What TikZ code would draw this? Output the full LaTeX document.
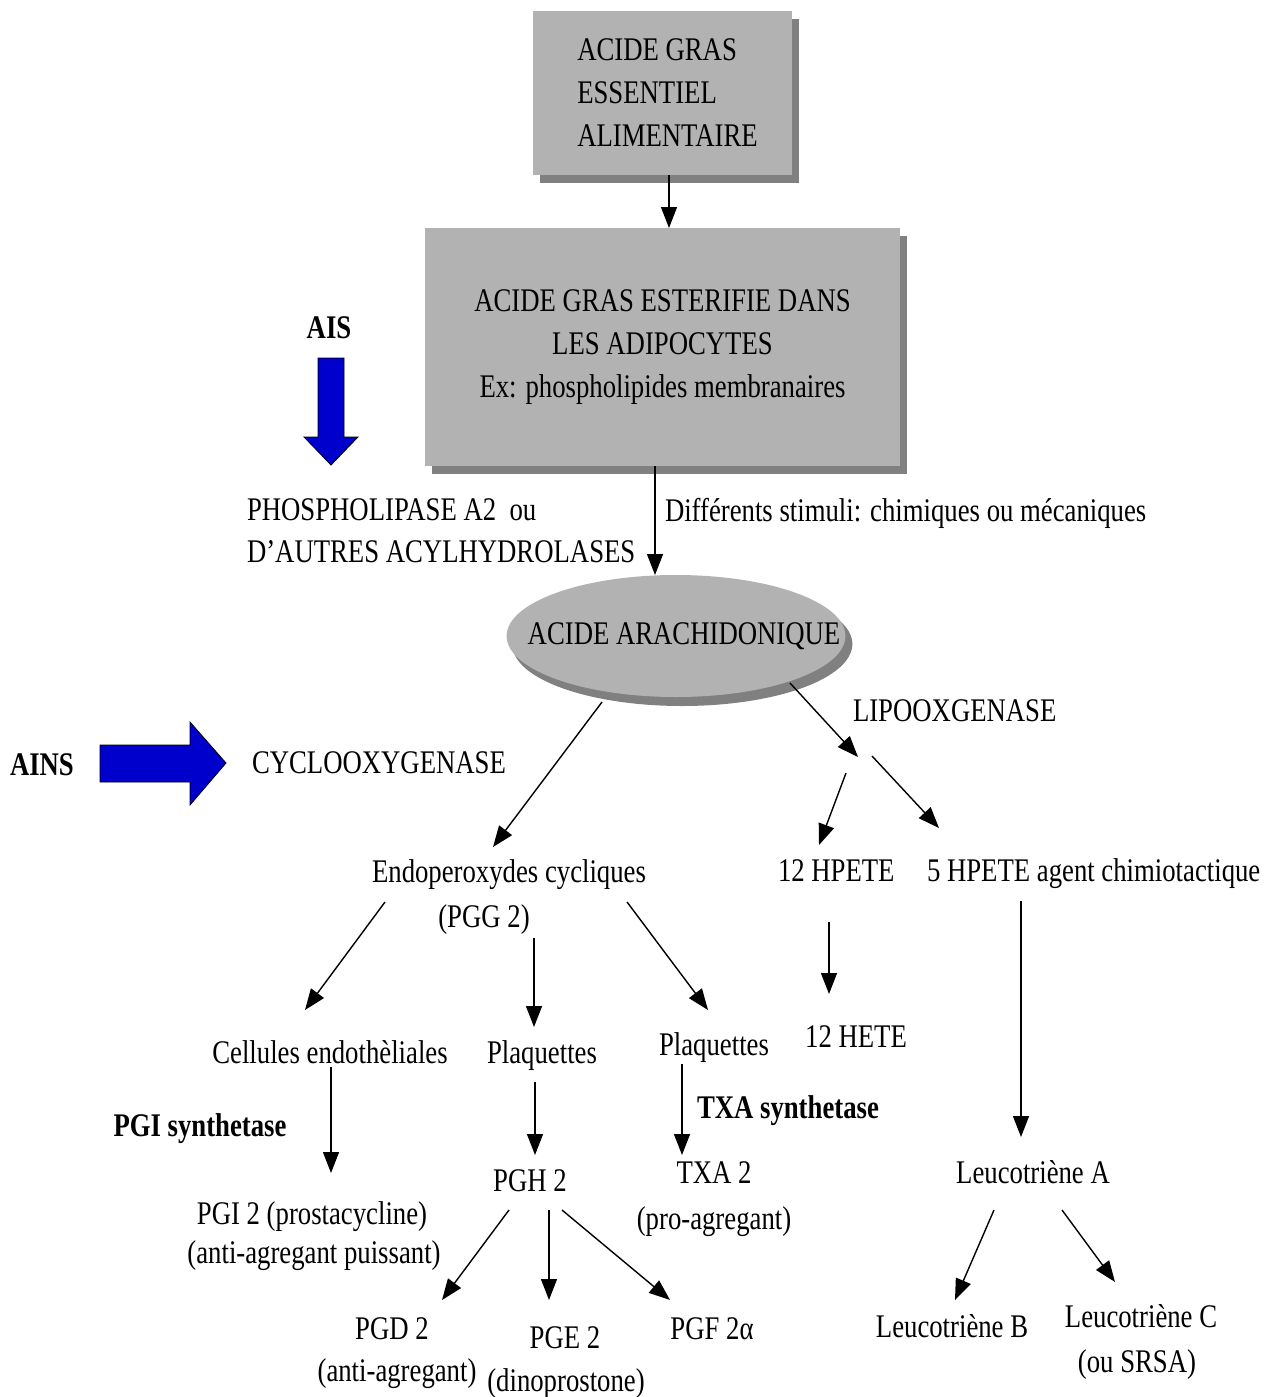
\documentclass[tikz,border=0pt]{standalone}
\usepackage{fontspec}
\setmainfont{Liberation Serif}[FakeStretch=0.81]
\usetikzlibrary{arrows.meta,shapes.geometric,shadows}
\definecolor{boxgray}{RGB}{178,178,178}
\definecolor{shadowgray}{RGB}{128,128,128}
\definecolor{drugblue}{RGB}{0,0,204}

\begin{document}
\begin{tikzpicture}[x=1pt,y=-1pt,
    every node/.style={inner sep=0pt,outer sep=0pt,font=\fontsize{33}{43}\selectfont},
    txt/.style={anchor=base},
    txtl/.style={anchor=base west},
    strong/.style={font=\fontsize{33}{43}\selectfont\bfseries},
    card/.style={fill=boxgray,drop shadow={shadow xshift=7pt,shadow yshift=-8pt,fill=shadowgray,opacity=1}},
    arr/.style={-{Triangle[length=21pt,width=16pt]},line width=1.4pt},
    drug/.style={fill=drugblue,draw=black,line width=0.8pt,line join=miter}]
  \useasboundingbox (0,0) rectangle (1274,1397);

  % boites du haut
  \node[card,minimum width=259,minimum height=164,align=left] (box1) at (662.5,93)
    {\hspace*{10pt}ACIDE GRAS\\\hspace*{10pt}ESSENTIEL\\\hspace*{10pt}ALIMENTAIRE};
  \node[card,minimum width=475,minimum height=238,align=center] (box2) at (662.5,347)
    {ACIDE GRAS ESTERIFIE DANS\\LES ADIPOCYTES\\Ex: phospholipides membranaires};
  \node[card,ellipse,inner xsep=-44.5pt,minimum width=338pt,minimum height=122pt,
        drop shadow={shadow xshift=6pt,shadow yshift=-9pt,fill=shadowgray,opacity=1}]
    (arach) at (676,636) {\hspace*{16pt}ACIDE ARACHIDONIQUE};

  \draw[arr] ([xshift=6.5]box1.south) -- ([xshift=6.5]box2.north);
  \draw[arr] ([xshift=-7.5]box2.south) -- ([xshift=-7.5]box2.south |- arach.north);
  \node[txtl] (stim) at (665,521) {Différents stimuli: chimiques ou mécaniques};

  % inhibiteurs
  \node[txt,strong] (ais) at (329,338) {AIS};
  \draw[drug] (318,358) -- (344,358) -- (344,437) -- (358,437) -- (331,465)
    -- (304,437) -- (318,437) -- cycle;
  \node[txtl] (pla2) at (247,520) {PHOSPHOLIPASE A2\ \ ou};
  \node[txtl] (acyl) at (247,562) {D’AUTRES ACYLHYDROLASES};

  \node[txtl,strong] (ains) at (10,775) {AINS};
  \draw[drug] (100,745) -- (190,745) -- (190,722) -- (226,763) -- (190,805)
    -- (190,782) -- (100,782) -- cycle;
  \node[txtl] (cox) at (252,773) {CYCLOOXYGENASE};
  \node[txtl] (lox) at (853,721) {LIPOOXGENASE};

  % voie cyclooxygenase
  \node[txt] (endo) at (509,882) {Endoperoxydes cycliques};
  \node[txt] (pgg) at (484,927) {(PGG 2)};
  \node[txt] (cell) at (330,1063) {Cellules endothèliales};
  \node[txt] (plaqA) at (542,1063) {Plaquettes};
  \node[txt] (plaqB) at (714,1055) {Plaquettes};
  \node[txt,strong] (pgisyn) at (200,1136) {PGI synthetase};
  \node[txtl,strong] (txasyn) at (697,1118) {TXA synthetase};
  \node[txt] (pgi) at (312,1224) {PGI 2 (prostacycline)};
  \node[txt] (pgiact) at (314,1263) {(anti-agregant puissant)};
  \node[txt] (pgh) at (530,1191) {PGH 2};
  \node[txt] (txa) at (714,1183) {TXA 2};
  \node[txt] (txaact) at (714,1229) {(pro-agregant)};
  \node[txt] (pgd) at (392,1339) {PGD 2};
  \node[txt] (pgdact) at (397,1381) {(anti-agregant)};
  \node[txt] (pge) at (565,1348) {PGE 2};
  \node[txt] (pgename) at (566,1391) {(dinoprostone)};
  \node[txt] (pgf) at (712,1339) {PGF 2α};

  % voie lipooxygenase
  \node[txtl] (hpete12) at (778,881) {12 HPETE};
  \node[txtl] (hpete5) at (927,881) {5 HPETE agent chimiotactique};
  \node[txt] (hete12) at (856,1047) {12 HETE};
  \node[txt] (ltA) at (1033,1183) {Leucotriène A};
  \node[txt] (ltB) at (952,1337) {Leucotriène B};
  \node[txt] (ltC) at (1141,1327) {Leucotriène C};
  \node[txt] (srsa) at (1137,1372) {(ou SRSA)};

  % extremites des fleches
  \coordinate (coxA) at (602,702);   \coordinate (coxB) at (493,847);
  \coordinate (loxA) at (790,683);   \coordinate (loxB) at (858,757);
  \coordinate (h12A) at (846,773);   \coordinate (h12B) at (819,845);
  \coordinate (h5A) at (872,756);    \coordinate (h5B) at (939,828);
  \coordinate (cellA) at (385,902);  \coordinate (cellB) at (305,1010);
  \coordinate (plqA1) at (534,938);  \coordinate (plqA2) at (534,1027);
  \coordinate (plqB1) at (627,902);  \coordinate (plqB2) at (708,1010);
  \coordinate (heteA) at (829,922);  \coordinate (heteB) at (829,994);
  \coordinate (pgiA) at (331,1067);  \coordinate (pgiB) at (331,1173);
  \coordinate (pghA) at (535,1082);  \coordinate (pghB) at (535,1155);
  \coordinate (txaA) at (682,1064);  \coordinate (txaB) at (682,1155);
  \coordinate (pgdA) at (509,1210);  \coordinate (pgdB) at (442,1300);
  \coordinate (pgeA) at (549,1210);  \coordinate (pgeB) at (549,1300);
  \coordinate (pgfA) at (562,1210);  \coordinate (pgfB) at (670,1300);
  \coordinate (ltaA) at (1021,901);  \coordinate (ltaB) at (1021,1137);
  \coordinate (ltbA) at (994,1210);  \coordinate (ltbB) at (955,1300);
  \coordinate (ltcA) at (1062,1210); \coordinate (ltcB) at (1115,1282);

  \draw[arr] (coxA) -- (coxB);
  \draw[arr] (loxA) -- (loxB);
  \draw[arr] (h12A) -- (h12B);
  \draw[arr] (h5A) -- (h5B);
  \draw[arr] (cellA) -- (cellB);
  \draw[arr] (plqA1) -- (plqA2);
  \draw[arr] (plqB1) -- (plqB2);
  \draw[arr] (heteA) -- (heteB);
  \draw[arr] (pgiA) -- (pgiB);
  \draw[arr] (pghA) -- (pghB);
  \draw[arr] (txaA) -- (txaB);
  \draw[arr] (pgdA) -- (pgdB);
  \draw[arr] (pgeA) -- (pgeB);
  \draw[arr] (pgfA) -- (pgfB);
  \draw[arr] (ltaA) -- (ltaB);
  \draw[arr] (ltbA) -- (ltbB);
  \draw[arr] (ltcA) -- (ltcB);
\end{tikzpicture}
\end{document}
